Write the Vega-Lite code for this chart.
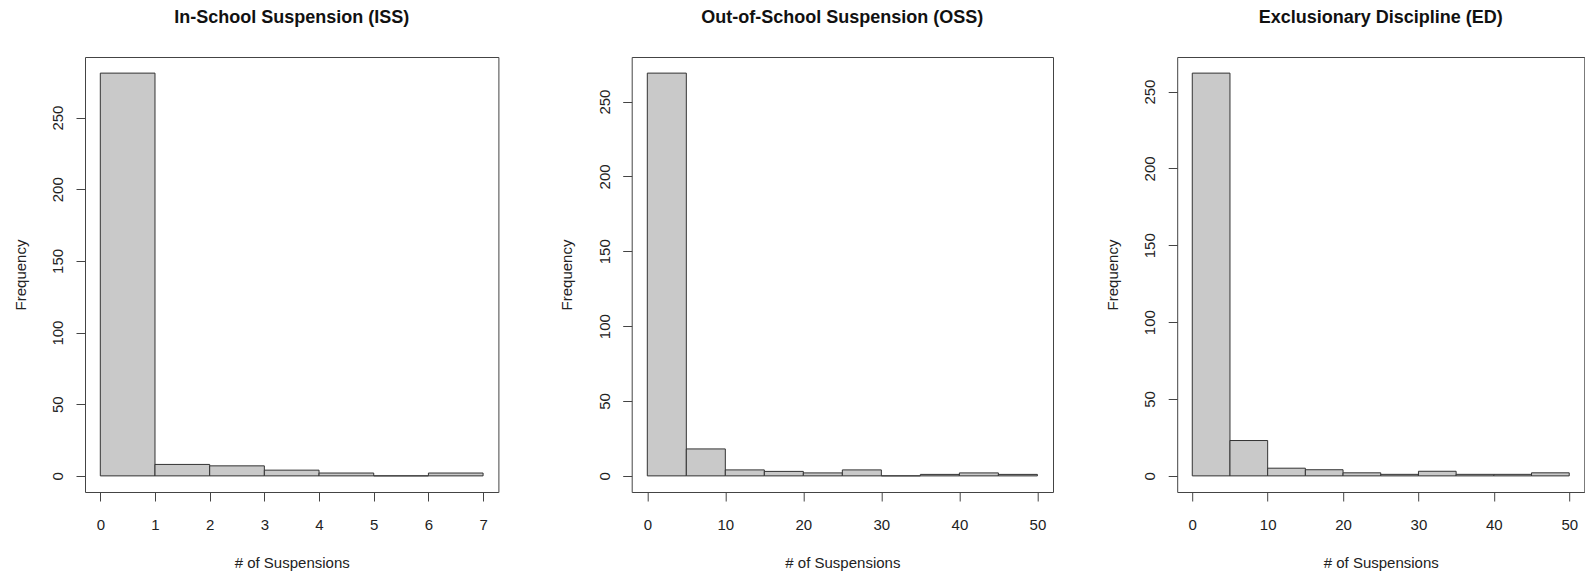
{
  "$schema": "https://vega.github.io/schema/vega-lite/v6.json",
  "padding": {"left": 12, "top": 8, "right": 0, "bottom": 0},
  "background": "white",
  "datasets": {
    "iss": [
      {"bin_start": 0, "bin_end": 1, "count": 281},
      {"bin_start": 1, "bin_end": 2, "count": 8},
      {"bin_start": 2, "bin_end": 3, "count": 7},
      {"bin_start": 3, "bin_end": 4, "count": 4},
      {"bin_start": 4, "bin_end": 5, "count": 2},
      {"bin_start": 5, "bin_end": 6, "count": 0},
      {"bin_start": 6, "bin_end": 7, "count": 2}
    ],
    "oss": [
      {"bin_start": 0, "bin_end": 5, "count": 269},
      {"bin_start": 5, "bin_end": 10, "count": 18},
      {"bin_start": 10, "bin_end": 15, "count": 4},
      {"bin_start": 15, "bin_end": 20, "count": 3},
      {"bin_start": 20, "bin_end": 25, "count": 2},
      {"bin_start": 25, "bin_end": 30, "count": 4},
      {"bin_start": 30, "bin_end": 35, "count": 0},
      {"bin_start": 35, "bin_end": 40, "count": 1},
      {"bin_start": 40, "bin_end": 45, "count": 2},
      {"bin_start": 45, "bin_end": 50, "count": 1}
    ],
    "ed": [
      {"bin_start": 0, "bin_end": 5, "count": 262},
      {"bin_start": 5, "bin_end": 10, "count": 23},
      {"bin_start": 10, "bin_end": 15, "count": 5},
      {"bin_start": 15, "bin_end": 20, "count": 4},
      {"bin_start": 20, "bin_end": 25, "count": 2},
      {"bin_start": 25, "bin_end": 30, "count": 1},
      {"bin_start": 30, "bin_end": 35, "count": 3},
      {"bin_start": 35, "bin_end": 40, "count": 1},
      {"bin_start": 40, "bin_end": 45, "count": 1},
      {"bin_start": 45, "bin_end": 50, "count": 2}
    ]
  },
  "config": {
    "font": "Liberation Sans",
    "view": {"stroke": "#444", "strokeWidth": 1},
    "title": {"fontSize": 18, "fontWeight": "bold", "color": "#111", "baseline": "alphabetic", "offset": 30.5, "anchor": "middle"},
    "axis": {
      "grid": false,
      "domain": false,
      "ticks": true,
      "tickSize": 9,
      "tickColor": "#444",
      "labelFontSize": 15,
      "labelColor": "#222",
      "labelFlush": false,
      "labelOverlap": false,
      "titleFontSize": 15,
      "titleFontWeight": "normal",
      "titleColor": "#222"
    },
    "axisX": {"labelBaseline": "alphabetic", "labelPadding": 28, "titleBaseline": "alphabetic", "titleY": 75.3, "titleAlign": "center"},
    "axisY": {"labelAngle": -90, "labelAlign": "center", "labelBaseline": "alphabetic", "labelPadding": 13.5, "titleAngle": -90, "titleBaseline": "alphabetic", "titleAlign": "center", "titleX": -60}
  },
  "hconcat": [
    {
      "title": "In-School Suspension (ISS)",
      "width": 413.4,
      "height": 435,
      "data": {"name": "iss"},
      "mark": {"type": "rect", "fill": "#c9c9c9", "stroke": "#333", "strokeWidth": 1},
      "encoding": {
        "x": {"field": "bin_start", "type": "quantitative", "scale": {"domain": [-0.28, 7.28], "nice": false, "zero": false}, "axis": {"values": [0, 1, 2, 3, 4, 5, 6, 7], "title": "# of Suspensions"}},
        "x2": {"field": "bin_end"},
        "y": {"field": "count", "type": "quantitative", "scale": {"domain": [-11.24, 292.24], "nice": false, "zero": false}, "axis": {"values": [0, 50, 100, 150, 200, 250], "title": "Frequency", "titleY": 217.5}},
        "y2": {"datum": 0}
      }
    },
    {
      "spacing": 50.5,
      "hconcat": [
        {
          "title": "Out-of-School Suspension (OSS)",
          "width": 421.3,
          "height": 435,
          "data": {"name": "oss"},
          "mark": {"type": "rect", "fill": "#c9c9c9", "stroke": "#333", "strokeWidth": 1},
          "encoding": {
            "x": {"field": "bin_start", "type": "quantitative", "scale": {"domain": [-2, 52], "nice": false, "zero": false}, "axis": {"values": [0, 10, 20, 30, 40, 50], "title": "# of Suspensions"}},
            "x2": {"field": "bin_end"},
            "y": {"field": "count", "type": "quantitative", "scale": {"domain": [-10.76, 279.76], "nice": false, "zero": false}, "axis": {"values": [0, 50, 100, 150, 200, 250], "title": "Frequency", "titleY": 217.5}},
            "y2": {"datum": 0}
          }
        },
        {
          "title": "Exclusionary Discipline (ED)",
          "width": 407.1,
          "height": 435,
          "data": {"name": "ed"},
          "mark": {"type": "rect", "fill": "#c9c9c9", "stroke": "#333", "strokeWidth": 1},
          "encoding": {
            "x": {"field": "bin_start", "type": "quantitative", "scale": {"domain": [-2, 52], "nice": false, "zero": false}, "axis": {"values": [0, 10, 20, 30, 40, 50], "title": "# of Suspensions"}},
            "x2": {"field": "bin_end"},
            "y": {"field": "count", "type": "quantitative", "scale": {"domain": [-10.48, 272.48], "nice": false, "zero": false}, "axis": {"values": [0, 50, 100, 150, 200, 250], "title": "Frequency", "titleY": 217.5}},
            "y2": {"datum": 0}
          }
        }
      ]
    }
  ],
  "spacing": 59.7
}
